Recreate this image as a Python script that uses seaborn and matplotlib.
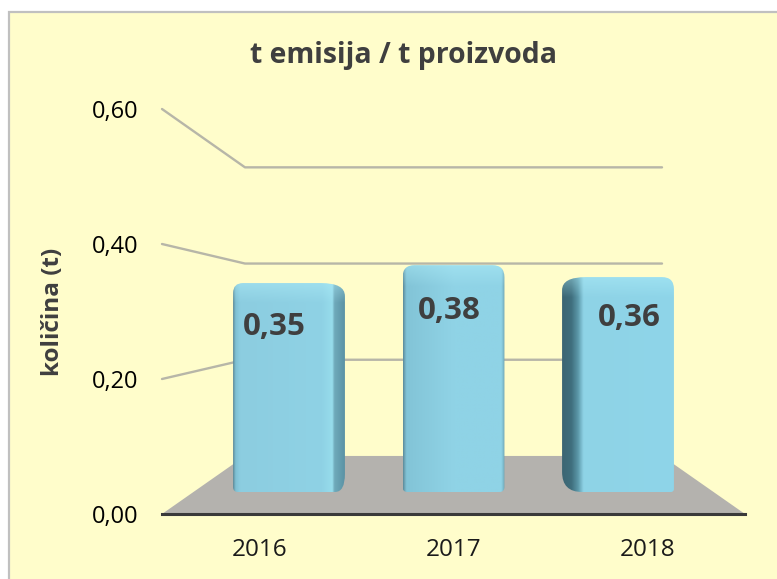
import numpy as np
import matplotlib
matplotlib.use('Agg')
import matplotlib.pyplot as plt
from matplotlib.colors import to_rgb
from matplotlib.patches import Rectangle, Polygon, PathPatch
from matplotlib.path import Path
import seaborn as sns

years = ['2016', '2017', '2018']
values = [0.35, 0.38, 0.36]
value_labels = ['0,35', '0,38', '0,36']
y_ticks = [0.0, 0.2, 0.4, 0.6]
y_tick_labels = ['0,00', '0,20', '0,40', '0,60']
grid_levels = [0.2, 0.4, 0.6]

# horizontal shading of each bar, fraction of bar width -> colour
bar_shades = [
    [(0, '#5f8f9e'), (.02, '#7fc0d3'), (.06, '#8ccde0'), (.8, '#8fd2e5'), (.89, '#97dcec'), (.91, '#70aabb'), (1, '#5b93a5')],
    [(0, '#5f8f9e'), (.03, '#82c4d7'), (.5, '#90d3e6'), (.97, '#8fd3e6'), (1, '#6fa5b5')],
    [(0, '#3c6673'), (.08, '#3f6e7d'), (.14, '#5b97a8'), (.19, '#8fd3e6'), (1, '#8ed5e9')],
]
narrow = [0, 5, 0]  # px taken off each side
label_offset = [(-15, 44), (-4, 46), (11, 41)]  # px from bar top centre
# corner cuts in px (dx, dy): top left, top right, bottom right, bottom left
corners = [
    [(10, 10), (24, 13), (10, 18), (5, 5)],
    [(12, 12), (12, 12), (5, 5), (5, 5)],
    [(24, 13), (12, 12), (3, 3), (20, 20)],
]

W, H = 777, 579
sns.set_style('white')
plt.rcParams['font.family'] = ['Open Sans', 'DejaVu Sans']

fig = plt.figure(figsize=(W / 100, H / 100), dpi=100, facecolor='white')
fig.add_artist(Rectangle((8.5 / W, 0 - 0.05), 1, 1 - 11.5 / H + 0.05, transform=fig.transFigure,
                         facecolor='#FFFDCB', edgecolor='#c0c0c0', linewidth=1.6, zorder=-1))

# main axes: left ticks, years, floor and wall lines
ax = fig.add_axes([162 / W, 1 - 514 / H, 583 / W, 405 / H])
ax.patch.set_visible(False)
ax.set_xlim(-0.5, 2.5)
ax.set_ylim(0, 0.6)

depth_x = 0.427
depth_y = 0.086
wall_scale = 0.7126
ax.add_patch(Polygon([(-0.5, 0), (-0.5 + depth_x, depth_y), (2.5 - depth_x, depth_y), (2.5, 0)],
                     facecolor='#b4b2ae', edgecolor='none', zorder=1))
for lev in grid_levels:
    ax.plot([-0.5, -0.5 + depth_x, 2.5 - depth_x],
            [lev, depth_y + lev * wall_scale, depth_y + lev * wall_scale],
            color='#b7b6a8', lw=1.7, zorder=2, solid_capstyle='round', clip_on=False)

sns.despine(ax=ax, left=True)
ax.spines['bottom'].set_color('#3a3a3a')
ax.spines['bottom'].set_linewidth(2.2)
ax.set_xticks(range(3), years)
ax.set_yticks(y_ticks, y_tick_labels)
ax.tick_params(axis='y', length=0, pad=17, labelsize=17, labelcolor='black')
ax.tick_params(axis='x', length=0, pad=17, labelsize=17.5, labelcolor='#1a1a1a')
ax.set_ylabel('količina (t)', fontsize=17.5, fontweight='bold', color='#3f3f3f', labelpad=0)
ax.yaxis.set_label_coords((65 - 162) / 583, 0.5)
fig.text(403 / W, 1 - 56 / H, 't emisija / t proizvoda', ha='center', va='center',
         fontsize=20.4, fontweight='bold', color='#3f3f3f')

# bars get their own scale, they stand further back than the front axis
ax_bars = fig.add_axes([206.75 / W, 1 - 492 / H, 493.5 / W, 358.2 / H])
ax_bars.patch.set_visible(False)
sns.barplot(x=years, y=values, ax=ax_bars, width=0.68, color='#8fd2e5', legend=False)
ax_bars.set_xlim(-0.5, 2.5)
ax_bars.set_ylim(0, 0.6)
ax_bars.axis('off')

px_x = 3 / 493.5
px_y = 0.6 / 358.2


def bar_outline(x0, x1, top, cuts):
    # rounded outline from the bar's box, each corner cut by its own size
    (tlx, tly), (trx, try_), (brx, bry), (blx, bly) = [(a * px_x, b * px_y) for a, b in cuts]
    verts = [(x0, bly), (x0, top - tly), (x0, top), (x0 + tlx, top),
             (x1 - trx, top), (x1, top), (x1, top - try_),
             (x1, bry), (x1, 0), (x1 - brx, 0),
             (x0 + blx, 0), (x0, 0), (x0, bly), (x0, bly)]
    codes = [Path.MOVETO, Path.LINETO, Path.CURVE3, Path.CURVE3,
             Path.LINETO, Path.CURVE3, Path.CURVE3,
             Path.LINETO, Path.CURVE3, Path.CURVE3,
             Path.LINETO, Path.CURVE3, Path.CURVE3, Path.CLOSEPOLY]
    return Path(verts, codes)


for i, bar in enumerate(list(ax_bars.patches)):
    x0 = bar.get_x() + narrow[i] * px_x
    wid = bar.get_width() - 2 * narrow[i] * px_x
    top = bar.get_height()
    bar.set_visible(False)
    cols, rows = 120, 240
    frac, hexes = zip(*bar_shades[i])
    rgb = np.array([to_rgb(c) for c in hexes])
    row = np.stack([np.interp(np.linspace(0, 1, cols), frac, rgb[:, k]) for k in range(3)], axis=1)
    img = np.repeat(row[None, :, :], rows, axis=0)
    # light band along the top, fading down
    fade = np.clip(1 - np.arange(rows) / 22, 0, 1)[:, None, None] * 0.4
    img = img * (1 - fade) + np.array(to_rgb('#b4f2fc')) * fade
    im = ax_bars.imshow(img, extent=(x0, x0 + wid, 0, top), aspect='auto', zorder=3, interpolation='bilinear')
    clip = PathPatch(bar_outline(x0, x0 + wid, top, corners[i]), transform=ax_bars.transData,
                     facecolor='none', edgecolor='none')
    ax_bars.add_patch(clip)
    im.set_clip_path(clip)
    dx, dy = label_offset[i]
    ax_bars.annotate(value_labels[i], (bar.get_x() + bar.get_width() / 2, top),
                     xytext=(dx * 0.72, -dy * 0.72), textcoords='offset points', ha='center', va='center',
                     fontsize=22.5, fontweight='bold', color='#3f3f3f', zorder=5)
ax_bars.set_xlim(-0.5, 2.5)
ax_bars.set_ylim(0, 0.6)

fig.savefig('out.png', dpi=100, facecolor=fig.get_facecolor())
